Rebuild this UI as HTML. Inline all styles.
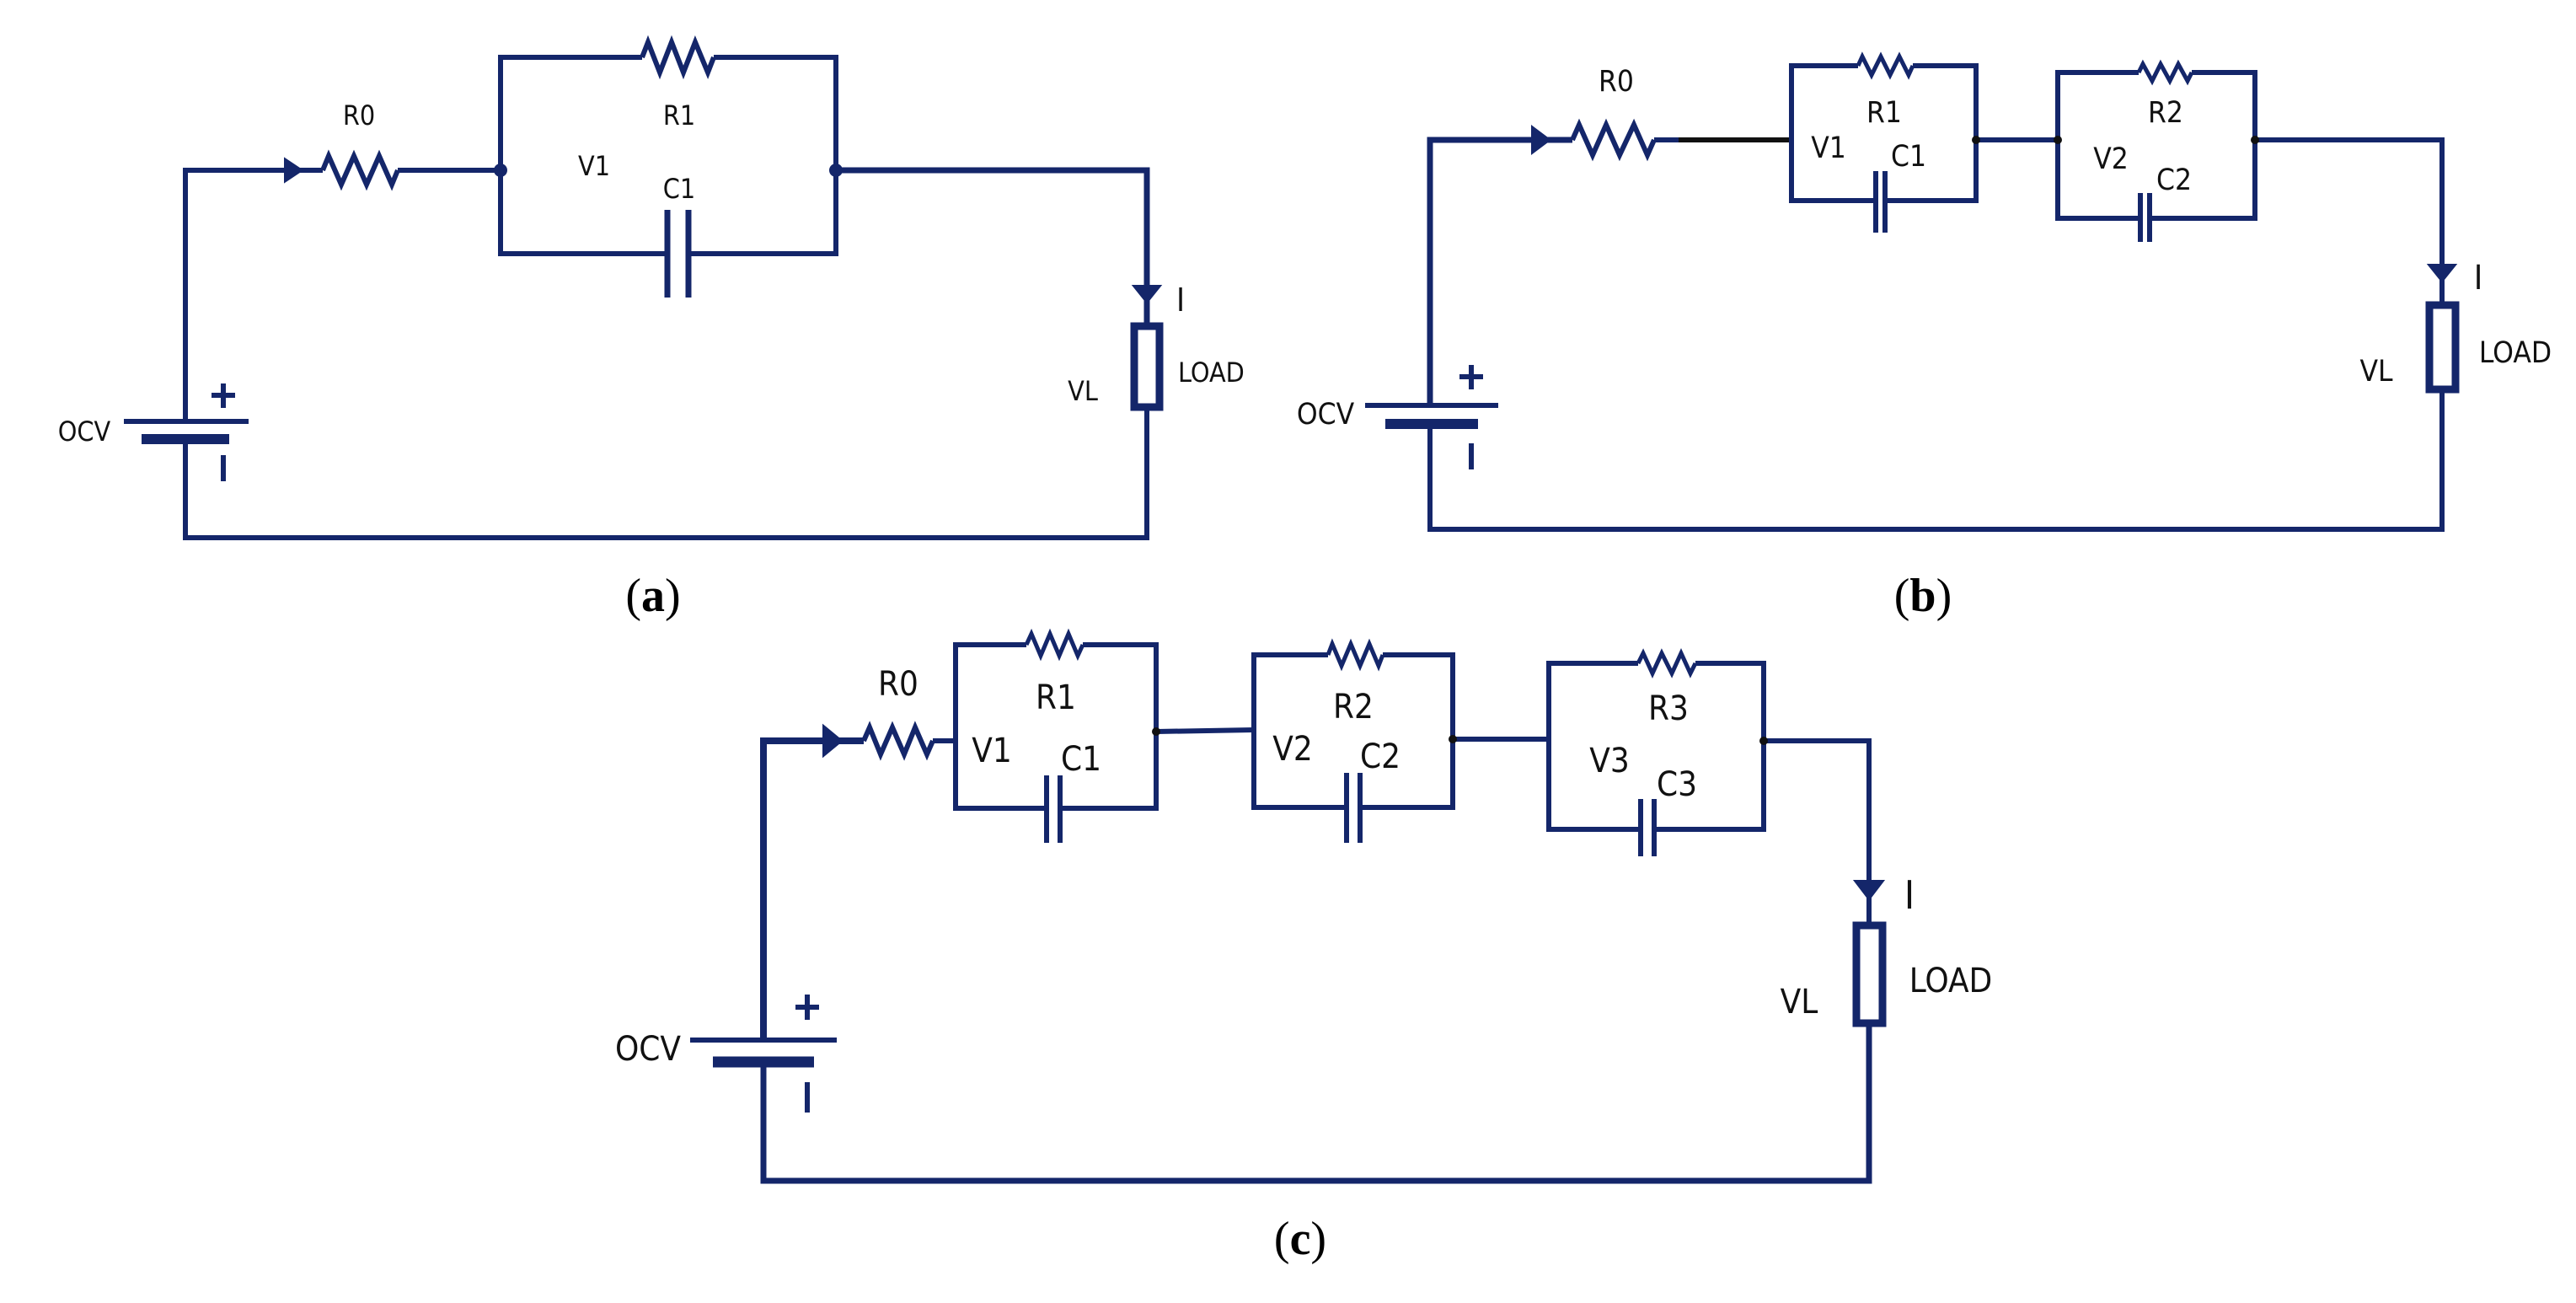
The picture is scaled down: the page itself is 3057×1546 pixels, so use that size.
<!DOCTYPE html>
<html><head><meta charset="utf-8"><style>
html,body{margin:0;padding:0;background:#fff}
svg{display:block}
.t{font-family:"Liberation Sans Narrow","DejaVu Sans Condensed","Liberation Sans",sans-serif;fill:#111}
.cap{font-family:"Liberation Serif",serif;fill:#000}
</style></head><body>
<svg width="3057" height="1546" viewBox="0 0 3057 1546" xmlns="http://www.w3.org/2000/svg">
<g fill="none" stroke="#14266a" stroke-width="6" stroke-linejoin="miter">
<!-- ===== (a) ===== -->
<polyline points="220,500 220,202 383,202"/>
<polygon points="340,192 355,202 340,212" fill="#14266a"/>
<polyline points="383,202 390,185 405,219 420,185 435,219 450,185 465,219 472,202"/>
<line x1="472" y1="202" x2="594" y2="202"/>
<polyline points="762,68 594,68 594,301 792,301"/>
<polyline points="847,68 992,68 992,301 817,301"/>
<polyline points="762,68 769,50 783,86 797,50 811,86 825,50 840,86 847,68"/>
<line x1="792" y1="249" x2="792" y2="353" stroke-width="7"/>
<line x1="817" y1="249" x2="817" y2="353" stroke-width="7"/>
<polyline points="992,202 1361,202 1361,383" stroke-width="7"/>
<polygon points="1349,341 1373,341 1361,356" fill="#14266a"/>
<rect x="1346" y="387" width="30" height="96" stroke-width="9"/>
<polyline points="1361,487 1361,638 220,638 220,521"/>
<line x1="147" y1="500" x2="295" y2="500" stroke-width="6"/>
<line x1="168" y1="521" x2="272" y2="521" stroke-width="12"/>
<path d="M265 455V484M251 469H279"/>
<line x1="265" y1="540" x2="265" y2="571"/>
<circle cx="594" cy="202" r="5" fill="#14266a"/>
<circle cx="992" cy="202" r="5" fill="#14266a"/>

<!-- ===== (b) ===== -->
<polyline points="1697,481 1697,166 1866,166" stroke-width="7"/>
<polygon points="1820,154 1836,166 1820,178" fill="#14266a"/>
<polyline points="1866,166 1874,148 1890,184 1906,148 1922,184 1939,148 1955,184 1963,166"/>
<line x1="1963" y1="166" x2="1992" y2="166"/>
<line x1="1992" y1="166" x2="2126" y2="166" stroke="#111"/>
<polyline points="2205,78 2126,78 2126,238 2226,238"/>
<polyline points="2270,78 2345,78 2345,238 2236,238"/>
<polyline points="2205,78 2210,67 2221,89 2232,67 2243,89 2254,67 2265,89 2270,78" stroke-width="5"/>
<line x1="2226" y1="203" x2="2226" y2="276"/>
<line x1="2237" y1="203" x2="2237" y2="276"/>
<polyline points="2345,166 2442,166"/>
<polyline points="2538,86 2442,86 2442,259 2540,259"/>
<polyline points="2601,86 2676,86 2676,259 2551,259"/>
<polyline points="2538,86 2543,76 2554,96 2564,76 2575,96 2585,76 2596,96 2601,86" stroke-width="5"/>
<line x1="2540" y1="229" x2="2540" y2="287"/>
<line x1="2551" y1="229" x2="2551" y2="287"/>
<polyline points="2676,166 2898,166 2898,358"/>
<polygon points="2886,316 2910,316 2898,331" fill="#14266a"/>
<rect x="2883" y="362" width="31" height="100" stroke-width="9"/>
<polyline points="2898,466 2898,628 1697,628 1697,503"/>
<line x1="1620" y1="481" x2="1778" y2="481" stroke-width="6"/>
<line x1="1644" y1="503" x2="1754" y2="503" stroke-width="12"/>
<path d="M1746 433V462M1732 447H1760"/>
<line x1="1746" y1="526" x2="1746" y2="557"/>
<circle cx="2345" cy="166" r="5" fill="#111" stroke="none"/>
<circle cx="2442" cy="166" r="5" fill="#111" stroke="none"/>
<circle cx="2676" cy="166" r="5" fill="#111" stroke="none"/>

<!-- ===== (c) ===== -->
<polyline points="906,1234 906,879 1025,879" stroke-width="8"/>
<polygon points="979,865 996,879 979,893" fill="#14266a"/>
<polyline points="1025,879 1032,863 1045,895 1059,863 1073,895 1086,863 1100,895 1107,879"/>
<line x1="1107" y1="879" x2="1134" y2="879"/>
<polyline points="1218,765 1134,765 1134,959 1242,959"/>
<polyline points="1285,765 1372,765 1372,959 1258,959"/>
<polyline points="1218,765 1224,752 1235,778 1246,752 1257,778 1268,752 1279,778 1285,765" stroke-width="5"/>
<line x1="1242" y1="920" x2="1242" y2="1000"/>
<line x1="1258" y1="920" x2="1258" y2="1000"/>
<polyline points="1372,868 1488,866"/>
<polyline points="1576,777 1488,777 1488,958 1598,958"/>
<polyline points="1641,777 1724,777 1724,958 1614,958"/>
<polyline points="1576,777 1581,764 1592,790 1603,764 1614,790 1625,764 1636,790 1641,777" stroke-width="5"/>
<line x1="1598" y1="917" x2="1598" y2="1000"/>
<line x1="1614" y1="917" x2="1614" y2="1000"/>
<polyline points="1724,877 1838,877"/>
<polyline points="1944,787 1838,787 1838,984 1947,984"/>
<polyline points="2012,787 2093,787 2093,984 1963,984"/>
<polyline points="1944,787 1950,775 1961,799 1972,775 1984,799 1995,775 2006,799 2012,787" stroke-width="5"/>
<line x1="1947" y1="948" x2="1947" y2="1016"/>
<line x1="1963" y1="948" x2="1963" y2="1016"/>
<polyline points="2093,879 2218,879 2218,1094"/>
<polygon points="2205,1047 2231,1047 2218,1064" fill="#14266a"/>
<rect x="2203" y="1098" width="31" height="116" stroke-width="9"/>
<polyline points="2218,1218 2218,1401 906,1401 906,1260" stroke-width="7"/>
<line x1="819" y1="1234" x2="993" y2="1234" stroke-width="6"/>
<line x1="846" y1="1260" x2="966" y2="1260" stroke-width="13"/>
<path d="M958 1180V1210M944 1195H972"/>
<line x1="958" y1="1284" x2="958" y2="1320"/>
<circle cx="1372" cy="868" r="5" fill="#111" stroke="none"/>
<circle cx="1724" cy="877" r="5" fill="#111" stroke="none"/>
<circle cx="2093" cy="879" r="5" fill="#111" stroke="none"/>
</g>

<g class="t" font-size="32" text-anchor="middle">
<text x="426" y="148">R0</text>
<text x="806" y="148">R1</text>
<text x="705" y="208">V1</text>
<text x="806" y="235">C1</text>
<text x="1401" y="369" font-size="38">I</text>
<text x="1398" y="453" text-anchor="start">LOAD</text>
<text x="1285" y="475">VL</text>
<text x="100" y="523">OCV</text>
</g>
<g class="t" font-size="35" text-anchor="middle">
<text x="1918" y="108">R0</text>
<text x="2236" y="145">R1</text>
<text x="2170" y="187">V1</text>
<text x="2265" y="197">C1</text>
<text x="2570" y="145">R2</text>
<text x="2505" y="200">V2</text>
<text x="2580" y="225">C2</text>
<text x="2941" y="343" font-size="40">I</text>
<text x="2985" y="430">LOAD</text>
<text x="2820" y="452">VL</text>
<text x="1573" y="503">OCV</text>
</g>
<g class="t" font-size="40" text-anchor="middle">
<text x="1066" y="825">R0</text>
<text x="1253" y="841">R1</text>
<text x="1177" y="904">V1</text>
<text x="1283" y="914">C1</text>
<text x="1606" y="852">R2</text>
<text x="1534" y="902">V2</text>
<text x="1638" y="911">C2</text>
<text x="1980" y="854">R3</text>
<text x="1910" y="916">V3</text>
<text x="1990" y="944">C3</text>
<text x="2266" y="1078" font-size="46">I</text>
<text x="2315" y="1177">LOAD</text>
<text x="2135" y="1202">VL</text>
<text x="769" y="1258">OCV</text>
</g>
<g class="cap" font-size="56" text-anchor="middle">
<text x="775" y="725">(<tspan font-weight="bold">a</tspan>)</text>
<text x="2282" y="725">(<tspan font-weight="bold">b</tspan>)</text>
<text x="1543" y="1488">(<tspan font-weight="bold">c</tspan>)</text>
</g>
</svg>
</body></html>
